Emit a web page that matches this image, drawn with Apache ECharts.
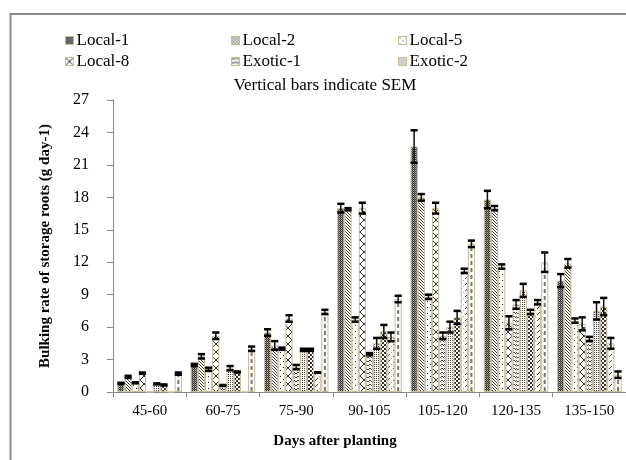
<!DOCTYPE html>
<html><head><meta charset="utf-8">
<script src="https://cdn.jsdelivr.net/npm/echarts@6/dist/echarts.min.js"></script>
<style>html,body{margin:0;padding:0;background:#fff}#c{width:626px;height:460px}</style>
</head><body><div id="c"></div>
<script>
const categories = ['45-60','60-75','75-90','90-105','105-120','120-135','135-150'];
const seriesNames = ['Local-1','Local-2','Local-5','Local-8','Exotic-1','Exotic-2','Exotic-3','Exotic-4','Exotic-5'];
const legendNames = ['Local-1','Local-2','Local-5','Local-8','Exotic-1','Exotic-2'];
const yTicks = [0,3,6,9,12,15,18,21,24,27];
// values per series (one per category)
const local1  = [0.8, 2.5, 5.5, 17.0, 22.7, 17.8, 10.3];
const local2  = [1.4, 3.3, 4.3, 16.9, 18.0, 17.0, 11.9];
const local5  = [0.85,2.1, 4.0, 6.7, 8.8, 11.6, 6.6];
const local8  = [1.75,5.2, 6.8, 17.0, 17.0, 6.4, 6.3];
const exotic1 = [0,   0.6, 2.3, 3.5, 5.2, 8.1, 4.9];
const exotic2 = [0.75,2.2, 3.9, 4.5, 6.0, 9.4, 7.5];
const exotic3 = [0.65,1.85,3.9, 5.6, 6.9, 7.4, 7.9];
const exotic4 = [0,   0,   1.8, 5.1, 11.2, 8.3, 4.5];
const exotic5 = [1.7, 4.0, 7.4, 8.6, 13.7, 12.0, 1.6];
const values = [local1, local2, local5, local8, exotic1, exotic2, exotic3, exotic4, exotic5];
// standard errors
const sem1 = [0.05,0.1,0.3,0.4,1.5,0.8,0.6];
const sem2 = [0.1,0.2,0.4,0.1,0.3,0.2,0.4];
const sem3 = [0.05,0.15,0.1,0.2,0.2,0.2,0.2];
const sem4 = [0.05,0.3,0.3,0.5,0.5,0.6,0.6];
const sem5 = [0,0.05,0.2,0.1,0.3,0.4,0.2];
const sem6 = [0.05,0.2,0.1,0.5,0.5,0.6,0.8];
const sem7 = [0.05,0.05,0.1,0.6,0.6,0.2,0.8];
const sem8 = [0,0,0,0.4,0.2,0.2,0.5];
const sem9 = [0.1,0.2,0.2,0.3,0.3,0.9,0.3];
const sems = [sem1,sem2,sem3,sem4,sem5,sem6,sem7,sem8,sem9];

function pat(w,h,draw){
  const c=document.createElement('canvas'); c.width=w; c.height=h;
  const g=c.getContext('2d'); g.fillStyle='#fff'; g.fillRect(0,0,w,h); draw(g);
  return {image:c, repeat:'repeat'};
}
function px(g,x,y,col){g.fillStyle=col; g.fillRect(x,y,1,1);}
const patterns = [
  pat(2,2,g=>{g.fillStyle='#777';g.fillRect(0,0,2,2);px(g,0,0,'#333');px(g,1,1,'#333');px(g,1,0,'#bbb');}),
  pat(3,3,g=>{for(let i=0;i<3;i++)px(g,i,i,'#444');}),
  pat(6,6,g=>{px(g,1,1,'#222');px(g,4,4,'#222');}),
  pat(8,8,g=>{g.strokeStyle='#333';g.lineWidth=1;g.beginPath();g.moveTo(0,0);g.lineTo(8,8);g.moveTo(8,0);g.lineTo(0,8);g.stroke();}),
  pat(6,4,g=>{px(g,0,0,'#444');px(g,1,1,'#444');px(g,2,1,'#444');px(g,3,0,'#444');px(g,4,0,'#444');px(g,5,1,'#444');px(g,0,2,'#aaa');px(g,3,2,'#aaa');}),
  pat(2,2,g=>{px(g,0,0,'#444');}),
  pat(4,4,g=>{g.fillStyle='#333';g.fillRect(0,0,2,2);g.fillRect(2,2,2,2);}),
  pat(6,6,g=>{px(g,5,0,'#444');px(g,4,1,'#444');px(g,3,2,'#444');px(g,1,4,'#aaa');}),
  '#ffffff'
];
const GAP = 0.12, N = 9;
const barSeries = values.map((v,i)=>({
  name: seriesNames[i], type:'bar', data:v, barGap:'0%', barCategoryGap:(GAP*100)+'%',
  itemStyle:{color:patterns[i], borderColor:'#c8bc96', borderWidth:1},
  emphasis:{disabled:true}, silent:true
}));
const errSeries = values.map((v,i)=>({
  type:'custom', name: seriesNames[i]+' SEM', silent:true, z:5,
  data: v.map((val,k)=>[k,val,sems[i][k]]),
  renderItem:(params,api)=>{
    const k=api.value(0), val=api.value(1), e=api.value(2);
    const catW=api.size([1,0])[0]; const bw=catW*(1-GAP)/N;
    const base=api.coord([k,0]); const c=api.coord([k,val]);
    const x=c[0]+(i-(N-1)/2)*bw;
    const children=[];
    if(i===8 && val>0){
      children.push({type:'line',shape:{x1:x,y1:base[1]-1,x2:x,y2:c[1]+1},style:{stroke:'#777',lineWidth:2,lineDash:[4,3]}});
    }
    if(val>0){
      const t=api.coord([k,val+e])[1], b=api.coord([k,val-e])[1];
      const hw=bw*0.5;
      children.push({type:'line',shape:{x1:x,y1:t,x2:x,y2:b},style:{stroke:'#111',lineWidth:1.5}});
      children.push({type:'line',shape:{x1:x-hw,y1:t,x2:x+hw,y2:t},style:{stroke:'#000',lineWidth:2.5}});
      children.push({type:'line',shape:{x1:x-hw,y1:b,x2:x+hw,y2:b},style:{stroke:'#000',lineWidth:2.5}});
    }
    return {type:'group',children};
  }
}));
const legX=[60,226,393], legY=[27,48];
const legends = legendNames.map((n,j)=>({
  data:[n], left:legX[j%3], top:legY[Math.floor(j/3)], icon:'rect', itemWidth:8, itemHeight:8, itemGap:3,
  selectedMode:false,
  textStyle:{fontFamily:'Liberation Serif',fontSize:17,color:'#000',padding:[0,0,0,-2]},
  itemStyle:{borderColor:'#c8bc96',borderWidth:1}
}));
const chart = echarts.init(document.getElementById('c'),null,{renderer:'canvas'});
chart.setOption({
  animation:false,
  backgroundColor:'#fff',
  title:{text:'Vertical bars indicate SEM', left:320, top:72, textAlign:'center',
    textStyle:{fontFamily:'Liberation Serif',fontSize:17,fontWeight:'normal',color:'#000'}},
  legend: legends,
  grid:{left:113, right:-5, top:100, bottom:68},
  xAxis:{type:'category', data:categories,
    axisLine:{lineStyle:{color:'#888',width:1}},
    axisTick:{show:true,length:5,lineStyle:{color:'#888'}},
    axisLabel:{fontFamily:'Liberation Serif',fontSize:15,color:'#000',margin:12}},
  yAxis:{type:'value', min:0, max:27, interval:3,
    name:'Bulking rate of storage roots (g day-1)', nameLocation:'middle', nameGap:60,
    nameTextStyle:{fontFamily:'Liberation Serif',fontSize:15,fontWeight:'bold',color:'#000'},
    axisLine:{show:true,lineStyle:{color:'#888'}},
    axisTick:{show:true,length:6,lineStyle:{color:'#888'}},
    splitLine:{show:false},
    axisLabel:{fontFamily:'Liberation Serif',fontSize:16,color:'#000',margin:24,
      formatter:v=>yTicks.includes(v)?String(v):''}},
  graphic:[
    {type:'rect',shape:{x:10.5,y:14,width:700,height:600},style:{fill:'none',stroke:'#8a8a8a',lineWidth:2},silent:true},
    {type:'text',style:{text:'Days after planting',x:335,y:441,textAlign:'center',textVerticalAlign:'middle',
      font:'bold 15px "Liberation Serif"',fill:'#000'},silent:true}
  ],
  series: barSeries.concat(errSeries)
});
</script></body></html>
